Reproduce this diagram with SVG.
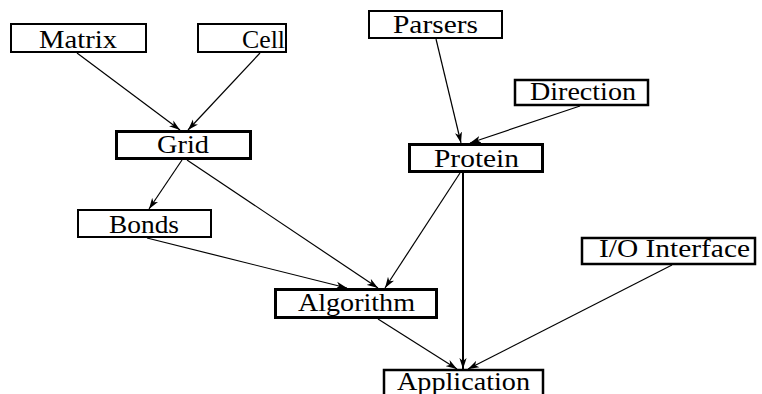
<svg xmlns="http://www.w3.org/2000/svg" width="762" height="394" viewBox="0 0 762 394">
<defs>
<marker id="ah" viewBox="-11 -4 11 8" refX="0" refY="0" markerWidth="11" markerHeight="8" markerUnits="userSpaceOnUse" orient="auto">
<path d="M0,0 L-11,-3.6 L-8,0 L-11,3.6 Z" fill="#000"/>
</marker>
</defs>
<style>
.box{fill:#fff;stroke:#000;stroke-width:2}
.thick{stroke-width:3}
.mid{stroke-width:2.5}
text{font-family:"Liberation Serif","DejaVu Serif",serif;font-size:25px;fill:#000}
.e{fill:none;stroke:#000;stroke-width:1.2;marker-end:url(#ah)}
</style>
<rect width="762" height="394" fill="#fff"/>
<g id="connectors">
<line class="e" x1="77" y1="53" x2="180" y2="130"/>
<line class="e" x1="260" y1="53" x2="188" y2="130"/>
<line class="e" x1="436" y1="39" x2="461" y2="143"/>
<line class="e" x1="580" y1="106" x2="470" y2="143"/>
<line class="e" x1="182" y1="160" x2="149" y2="209"/>
<line class="e" x1="187" y1="160" x2="378" y2="288"/>
<line class="e" x1="147" y1="238" x2="347" y2="288"/>
<line class="e" x1="460" y1="173" x2="385" y2="288"/>
<line class="e" x1="463" y1="173" x2="463" y2="369" style="stroke-width:2"/>
<line class="e" x1="378" y1="319" x2="457" y2="369"/>
<line class="e" x1="672" y1="265" x2="468" y2="369"/>
</g>
<g id="matrix"><rect class="box" x="11" y="24" width="135" height="28"/><text x="39" y="48" textLength="78" lengthAdjust="spacingAndGlyphs">Matrix</text></g>
<g id="cell"><rect class="box" x="198" y="24" width="88" height="28"/><text x="242" y="48" textLength="43" lengthAdjust="spacingAndGlyphs">Cell</text></g>
<g id="parsers"><rect class="box" x="369" y="11" width="133" height="27"/><text x="393" y="33" textLength="85" lengthAdjust="spacingAndGlyphs">Parsers</text></g>
<g id="direction"><rect class="box mid" x="515" y="80" width="133" height="25"/><text x="530" y="100" textLength="106" lengthAdjust="spacingAndGlyphs">Direction</text></g>
<g id="protein"><rect class="box thick" x="409.5" y="144.5" width="133" height="27"/><text x="434" y="167" textLength="85" lengthAdjust="spacingAndGlyphs">Protein</text></g>
<g id="grid"><rect class="box thick" x="116.5" y="131.5" width="134" height="27"/><text x="157" y="153" textLength="52" lengthAdjust="spacingAndGlyphs">Grid</text></g>
<g id="bonds"><rect class="box" x="78" y="210" width="133" height="27"/><text x="109" y="233" textLength="70" lengthAdjust="spacingAndGlyphs">Bonds</text></g>
<g id="algorithm"><rect class="box thick" x="275.5" y="289.5" width="161" height="28"/><text x="298" y="311" textLength="117" lengthAdjust="spacingAndGlyphs">Algorithm</text></g>
<g id="io-interface"><rect class="box mid" x="582" y="238" width="173" height="26"/><text x="599" y="257" textLength="151" lengthAdjust="spacingAndGlyphs">I/O Interface</text></g>
<g id="application"><rect class="box mid" x="384" y="370" width="159" height="32"/><text x="397" y="390" textLength="133" lengthAdjust="spacingAndGlyphs">Application</text></g>
</svg>
